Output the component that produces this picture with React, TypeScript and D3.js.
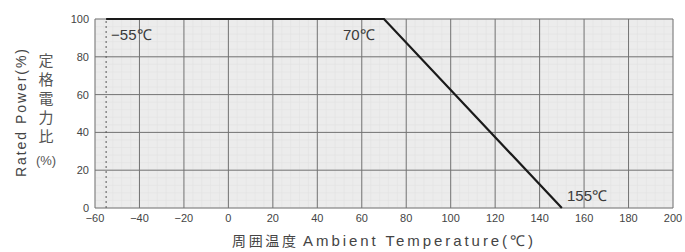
import React from 'react';
import * as d3 from 'd3';

// curve points (temperature °C, rated power %)
const temps = [-55, 70, 150];
const powers = [100, 100, 0];
const xTicks = [-60, -40, -20, 0, 20, 40, 60, 80, 100, 120, 140, 160, 180, 200];
const yTicks = [0, 20, 40, 60, 80, 100];
const notes = [
  { t: -55, p: 100, text: '−55℃', dx: 5, dy: 21 },
  { t: 70, p: 100, text: '70℃', dx: -41, dy: 21 },
  { t: 155, p: 0, text: '155℃', dx: -6, dy: -7 },
];

const W = 685;
const H = 252;
const margin = { top: 19, right: 12, bottom: 44, left: 95 };

const App = () => {
  const x = d3.scaleLinear().domain([-60, 200]).range([margin.left, W - margin.right]);
  const y = d3.scaleLinear().domain([0, 100]).range([H - margin.bottom, margin.top]);
  const minorX = d3.range(-60, 201, 4);
  const minorY = d3.range(0, 101, 4);

  const line = d3.line<number>()
    .x((d, i) => x(temps[i]))
    .y((d, i) => y(powers[i]));

  const font = '"Liberation Sans", Arial, sans-serif';
  const jp = '"Noto Sans CJK JP", sans-serif';

  return (
    <svg width={W} height={H} style={{ position: 'absolute', left: 0, top: 0, background: '#fff' }}>
      {/* plot background */}
      <rect x={x(-60)} y={y(100)} width={x(200) - x(-60)} height={y(0) - y(100)} fill="#ececec" />
      {/* faint minor grid */}
      {minorX.map(v => (
        <line key={'mx' + v} x1={x(v)} x2={x(v)} y1={y(0)} y2={y(100)} stroke="#e2e2e2" strokeWidth={0.6} />
      ))}
      {minorY.map(v => (
        <line key={'my' + v} x1={x(-60)} x2={x(200)} y1={y(v)} y2={y(v)} stroke="#e2e2e2" strokeWidth={0.6} />
      ))}
      {/* major grid */}
      {xTicks.map(v => (
        <line key={'gx' + v} x1={x(v)} x2={x(v)} y1={y(0)} y2={y(100)} stroke="#737373" strokeWidth={1} />
      ))}
      {yTicks.map(v => (
        <line key={'gy' + v} x1={x(-60)} x2={x(200)} y1={y(v)} y2={y(v)} stroke="#737373" strokeWidth={1} />
      ))}
      {/* -55 dotted marker */}
      <line x1={x(-55)} x2={x(-55)} y1={y(0)} y2={y(100)} stroke="#555" strokeWidth={1} strokeDasharray="2,3" />
      {/* derating curve */}
      <path d={line(powers) || ''} fill="none" stroke="#1a1a1a" strokeWidth={2.2} />

      {notes.map(n => (
        <text key={n.text} x={x(n.t) + n.dx} y={y(n.p) + n.dy} fontFamily={font} fontSize={15} fill="#3a3a3a">
          {n.text}
        </text>
      ))}

      {/* tick labels */}
      {xTicks.map(v => (
        <text key={'tx' + v} x={x(v)} y={y(0) + 14} textAnchor="middle" fontFamily={font} fontSize={11} fill="#444">
          {v < 0 ? '−' + Math.abs(v) : v}
        </text>
      ))}
      {yTicks.map(v => (
        <text key={'ty' + v} x={x(-60) - 6} y={y(v) + 4} textAnchor="end" fontFamily={font} fontSize={11} fill="#444">
          {v}
        </text>
      ))}

      {/* axis titles */}
      <text
        transform={`translate(26,${113}) rotate(-90)`}
        textAnchor="middle" fontFamily={font} fontSize={14} fill="#444"
        textLength={128} lengthAdjust="spacing"
      >
        Rated Power(%)
      </text>
      <text
        x={46} y={53} fontFamily={jp} fontSize={15} fill="#555"
        style={{ writingMode: 'vertical-rl' }} letterSpacing={4}
      >
        定格電力比
      </text>
      <text x={46} y={165} textAnchor="middle" fontFamily={font} fontSize={13} fill="#555">(%)</text>

      <text x={232} y={246} fontFamily={jp} fontSize={14} fill="#444" textLength={64} lengthAdjust="spacing">
        周囲温度
      </text>
      <text x={303} y={246} fontFamily={font} fontSize={15} fill="#444" textLength={230} lengthAdjust="spacing">
        Ambient Temperature(℃)
      </text>
    </svg>
  );
};

export default App;
